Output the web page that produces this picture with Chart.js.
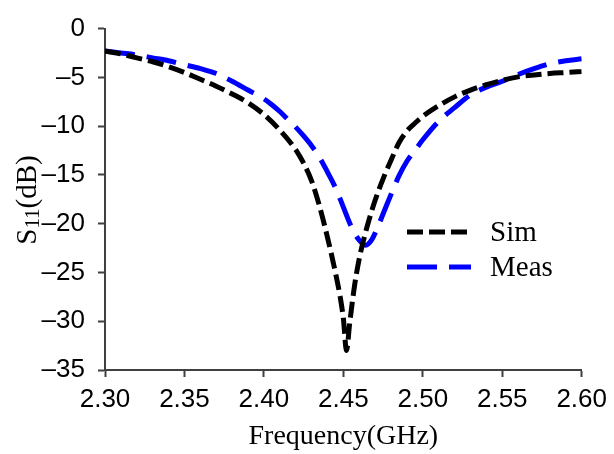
<!DOCTYPE html>
<html>
<head>
<meta charset="utf-8">
<script src="https://cdn.jsdelivr.net/npm/chart.js@4"></script>
<style>
  html, body { margin: 0; padding: 0; background: #fff; }
  #wrap { width: 614px; height: 454px; }
</style>
</head>
<body>
<div id="wrap"><canvas id="grafico" width="614" height="454"></canvas></div>
<script>
// simulated S11 (GHz, dB)
const simFreq = [2.300, 2.310, 2.320, 2.330, 2.340, 2.350, 2.360, 2.370, 2.380, 2.390,
  2.400, 2.410, 2.420, 2.425, 2.430, 2.435, 2.440, 2.445, 2.448, 2.450,
  2.452, 2.454, 2.457, 2.460, 2.463, 2.466, 2.470, 2.475, 2.480, 2.485,
  2.490, 2.495, 2.500, 2.510, 2.520, 2.530, 2.540, 2.550, 2.560, 2.570,
  2.580, 2.590, 2.600];
const simS11 = [-2.3, -2.6, -3.0, -3.4, -3.9, -4.5, -5.2, -5.9, -6.7, -7.6,
  -8.8, -10.4, -12.4, -13.8, -15.6, -18.2, -21.4, -25.0, -27.5, -29.7,
  -33.0, -30.2, -26.4, -23.6, -21.5, -19.7, -17.6, -15.4, -13.5, -11.7,
  -10.5, -9.7, -9.0, -7.9, -7.0, -6.3, -5.75, -5.3, -4.95, -4.75,
  -4.6, -4.5, -4.4];

// measured S11 (GHz, dB)
const measFreq = [2.300, 2.310, 2.320, 2.330, 2.340, 2.350, 2.360, 2.370, 2.380, 2.390,
  2.400, 2.405, 2.410, 2.415, 2.420, 2.425, 2.430, 2.435, 2.440, 2.445,
  2.450, 2.455, 2.460, 2.464, 2.468, 2.472, 2.476, 2.480, 2.485, 2.490,
  2.495, 2.500, 2.510, 2.520, 2.530, 2.540, 2.550, 2.560, 2.570, 2.580,
  2.590, 2.600];
const measS11 = [-2.3, -2.5, -2.7, -3.0, -3.3, -3.7, -4.1, -4.6, -5.4, -6.3,
  -7.2, -7.8, -8.5, -9.3, -10.1, -11.0, -12.0, -13.2, -14.7, -16.3,
  -18.3, -20.3, -21.7, -22.2, -21.6, -20.2, -18.6, -17.0, -15.1, -13.6,
  -12.5, -11.4, -9.5, -8.1, -6.8, -6.0, -5.4, -4.7, -4.1, -3.6,
  -3.3, -3.1];

const seriesNames = ["Sim", "Meas"];

const xMin = 2.30, xMax = 2.60, xStep = 0.05;
const yMin = -35, yMax = 0, yStep = 5;

const corEixo = "#404040";
const fonteNum = "'Liberation Sans', Arial, sans-serif";
const fonteSerif = "'Liberation Serif', 'Times New Roman', serif";

function pontos(xs, ys) {
  let out = [];
  for (let i = 0; i < xs.length; i++) {
    out.push({ x: xs[i], y: ys[i] });
  }
  return out;
}

// y axis title with subscript, drawn rotated
const tituloY = {
  id: "tituloY",
  afterDraw(chart) {
    const ctx = chart.ctx;
    const big = "29px " + fonteSerif;
    const small = "21px " + fonteSerif;
    ctx.save();
    ctx.fillStyle = "#000";
    ctx.textBaseline = "alphabetic";
    ctx.font = big;
    const wS = ctx.measureText("S").width;
    const wP = ctx.measureText("(dB)").width;
    ctx.font = small;
    const w11 = ctx.measureText("11").width;
    const total = wS + w11 + wP;
    ctx.translate(36, 200);
    ctx.rotate(-Math.PI / 2);
    let x = -total / 2;
    ctx.font = big;
    ctx.fillText("S", x, 0);
    x += wS;
    ctx.font = small;
    ctx.fillText("11", x, 3);
    x += w11;
    ctx.font = big;
    ctx.fillText("(dB)", x, 0);
    ctx.restore();
  }
};

// legend inside the plot area
const legendaInterna = {
  id: "legendaInterna",
  afterDatasetsDraw(chart) {
    const ctx = chart.ctx;
    const linhas = [232, 267];
    ctx.save();
    chart.data.datasets.forEach(function (ds, i) {
      const y = linhas[i];
      ctx.beginPath();
      ctx.setLineDash(ds.borderDash);
      ctx.lineDashOffset = 0;
      ctx.strokeStyle = ds.borderColor;
      ctx.lineWidth = ds.borderWidth;
      ctx.moveTo(407, y);
      ctx.lineTo(471, y);
      ctx.stroke();
      ctx.setLineDash([]);
      ctx.fillStyle = "#000";
      ctx.font = "29px " + fonteSerif;
      ctx.textBaseline = "middle";
      ctx.fillText(ds.label, 490, y + 1);
    });
    ctx.restore();
  }
};

const ctx = document.getElementById("grafico");

new Chart(ctx, {
  type: "scatter",
  data: {
    datasets: [{
      label: seriesNames[0],
      data: pontos(simFreq, simS11),
      showLine: true,
      borderColor: "#000000",
      borderWidth: 5,
      borderDash: [16, 6],
      pointRadius: 0,
      cubicInterpolationMode: "monotone"
    }, {
      label: seriesNames[1],
      data: pontos(measFreq, measS11),
      showLine: true,
      borderColor: "#0000ff",
      borderWidth: 5,
      borderDash: [30, 12],
      pointRadius: 0,
      cubicInterpolationMode: "monotone"
    }]
  },
  options: {
    responsive: false,
    animation: false,
    devicePixelRatio: 1,
    layout: { padding: { left: 0, top: 23, right: 27, bottom: 0 } },
    plugins: {
      legend: { display: false },
      tooltip: { enabled: false }
    },
    scales: {
      x: {
        type: "linear",
        min: xMin,
        max: xMax,
        afterFit: function (scale) { scale.height = 84; },
        afterBuildTicks: function (scale) {
          let t = [];
          for (let v = xMin; v <= xMax + 1e-9; v += xStep) t.push({ value: Math.round(v * 100) / 100 });
          scale.ticks = t;
        },
        ticks: {
          color: "#000",
          font: { family: fonteNum, size: 26 },
          padding: 7,
          maxRotation: 0,
          autoSkip: false,
          callback: function (v) { return Number(v).toFixed(2); }
        },
        grid: {
          drawOnChartArea: false,
          drawTicks: true,
          tickLength: 7,
          tickColor: corEixo,
          tickWidth: 2
        },
        border: { color: corEixo, width: 2 },
        title: {
          display: true,
          text: "Frequency(GHz)",
          color: "#000",
          font: { family: fonteSerif, size: 28 },
          padding: { top: 0, bottom: 1 }
        }
      },
      y: {
        min: yMin,
        max: yMax,
        afterFit: function (scale) { scale.width = 105; },
        ticks: {
          stepSize: yStep,
          color: "#000",
          font: { family: fonteNum, size: 26 },
          padding: 13,
          // long dash for the minus sign
          callback: function (v) { return v < 0 ? "\u2013" + Math.abs(v) : String(v); }
        },
        grid: {
          drawOnChartArea: false,
          drawTicks: true,
          tickLength: 7,
          tickColor: corEixo,
          tickWidth: 2
        },
        border: { color: corEixo, width: 2 }
      }
    }
  },
  plugins: [tituloY, legendaInterna]
});
</script>
</body>
</html>
